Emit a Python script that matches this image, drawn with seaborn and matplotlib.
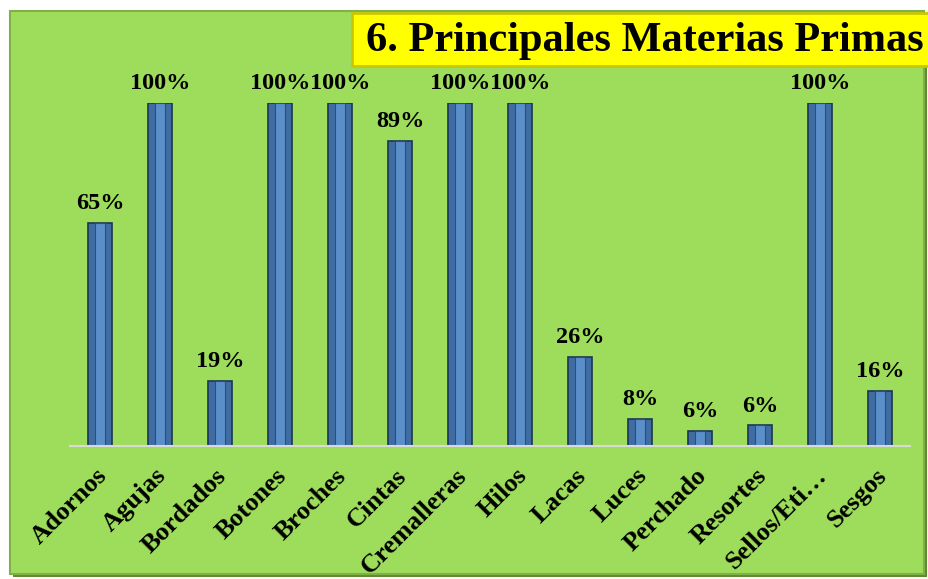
import matplotlib
matplotlib.use("Agg")
import matplotlib.pyplot as plt
import matplotlib.transforms as mtransforms
import seaborn as sns
import pandas as pd
from matplotlib.patches import Rectangle

categories = ["Adornos", "Agujas", "Bordados", "Botones", "Broches", "Cintas",
              "Cremalleras", "Hilos", "Lacas", "Luces", "Perchado", "Resortes",
              "Sellos/Eti…", "Sesgos"]
values = [65, 100, 19, 100, 100, 89, 100, 100, 26, 8, 4.5, 6, 100, 16]
value_labels = ["65%", "100%", "19%", "100%", "100%", "89%", "100%", "100%",
                "26%", "8%", "6%", "6%", "100%", "16%"]
title = "6. Principales Materias Primas"

sns.set_theme(style="white")
plt.rcParams["font.family"] = ["Liberation Serif", "DejaVu Serif"]

green = "#9edd5b"
fig = plt.figure(figsize=(9.29, 5.79), dpi=100)
fig.patch.set_facecolor("white")

# background axes (chart area)
bg = fig.add_axes([0, 0, 1, 1], zorder=-5)
bg.set_xlim(0, 929)
bg.set_ylim(579, 0)
bg.axis("off")
bg.add_patch(Rectangle((13, 14), 914, 563, facecolor="#5e8a33", edgecolor="none"))
bg.add_patch(Rectangle((10, 11), 914, 563, facecolor=green, edgecolor="#7fb04a",
                       linewidth=1.5))
# title box
bg.add_patch(Rectangle((352, 13), 590, 53, facecolor="#ffff00",
                       edgecolor="#c8c800", linewidth=2))
bg.text(924, 41, title, ha="right", va="center", fontsize=30.5,
        fontweight="bold", color="black")

ax = fig.add_axes([0.0753, 0.2297, 0.9042, 0.5924], zorder=1)
ax.set_facecolor("none")
df = pd.DataFrame({"cat": categories, "val": values})
sns.barplot(data=df, x="cat", y="val", ax=ax, color="#3f6da3", width=0.4,
            edgecolor="#1d3553", linewidth=1.2, saturation=1)
# inner highlight for bevel look
sns.barplot(data=df, x="cat", y="val", ax=ax, color="#5b8fca", width=0.16,
            edgecolor="#2c4f7a", linewidth=0.8, saturation=1)

ax.set_xlim(-0.5, len(categories) - 0.5)
ax.set_ylim(0, 100)
ax.set_xlabel("")
ax.set_ylabel("")
ax.set_yticks([])
for s in ["top", "right", "left"]:
    ax.spines[s].set_visible(False)
ax.spines["bottom"].set_color("#d9d9d9")
ax.spines["bottom"].set_linewidth(1.5)
ax.tick_params(axis="x", length=0, pad=13)
ax.set_xticks(range(len(categories)))
ax.set_xticklabels(categories, rotation=45, ha="right", rotation_mode="anchor",
                   fontsize=19, fontweight="bold", color="black")
shift = mtransforms.ScaledTranslation(-5 / 100, 0, fig.dpi_scale_trans)
for lbl in ax.get_xticklabels():
    lbl.set_transform(lbl.get_transform() + shift)

for i, (v, lab) in enumerate(zip(values, value_labels)):
    ax.text(i, v + 2.6, lab, ha="center", va="bottom", fontsize=17.5,
            fontweight="bold", color="black", clip_on=False)

fig.savefig("out.png", dpi=100)
